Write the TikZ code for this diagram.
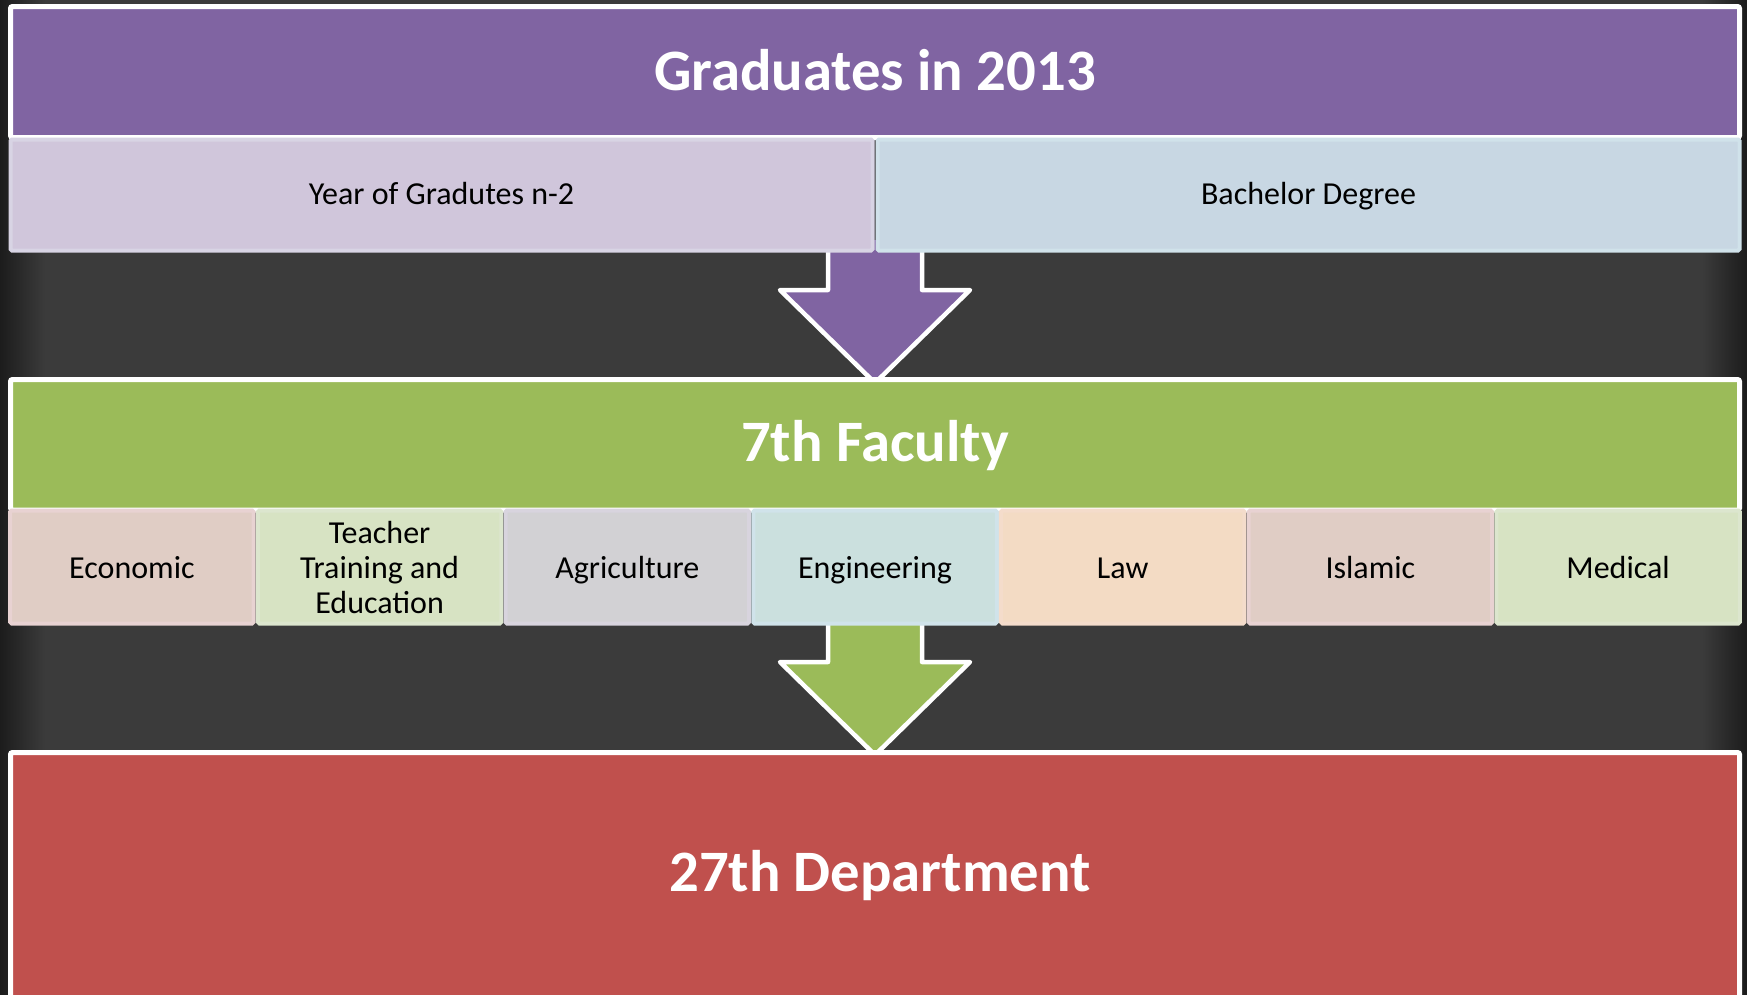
\documentclass[tikz,border=0pt]{standalone}
\usepackage{fontspec}
\setmainfont{Carlito}
\definecolor{bgc}{HTML}{3B3B3B}
\definecolor{bgedge}{HTML}{1C1C1C}
\definecolor{purp}{HTML}{8064A2}
\definecolor{grn}{HTML}{9BBB59}
\definecolor{redc}{HTML}{C0504D}
\definecolor{subAf}{HTML}{D0C6DB}\definecolor{subAd}{HTML}{D8D4E4}
\definecolor{subBf}{HTML}{C8D7E3}\definecolor{subBd}{HTML}{D0E2EA}
\definecolor{facRf}{HTML}{E0CDC5}\definecolor{facRd}{HTML}{E8D2D2}
\definecolor{facGf}{HTML}{D7E3C3}\definecolor{facGd}{HTML}{DCE6CE}
\definecolor{facPf}{HTML}{D2D1D4}\definecolor{facPd}{HTML}{D8D4DE}
\definecolor{facAf}{HTML}{CBE0DE}\definecolor{facAd}{HTML}{D0E3EA}
\definecolor{facOf}{HTML}{F3DBC4}\definecolor{facOd}{HTML}{F4DCCB}
\newcommand\sublbl[1]{\raisebox{-2.8pt}{#1}\strut}
\newcommand\faclbl[1]{\raisebox{-4.6pt}{#1}\strut}
\tikzset{
  hdrbox/.style={draw=white, line width=5pt, inner sep=0pt, outer sep=0pt, rounded corners=2pt,
    minimum width=1729pt},
  hdrtext/.style={text=white, inner sep=0pt, font=\fontsize{58.7}{62}\selectfont\bfseries},
  subbox/.style={line width=4pt, inner sep=0pt, outer sep=0pt, rounded corners=1.5pt,
    font=\fontsize{32}{35}\selectfont, text=black, align=center},
  topsub/.style={subbox, minimum width=862pt, minimum height=111pt},
  facbox/.style={subbox, minimum width=243.5pt, minimum height=113pt},
  blockarrow/.style={draw=white, line width=4.5pt, line join=round},
}
\begin{document}
\begin{tikzpicture}[x=1pt,y=-1pt]
\useasboundingbox (0,0) rectangle (1747,994);
\clip (0,0) rectangle (1747,994);
% background
\fill[bgc] (0,0) rectangle (1747,994);
\shade[left color=bgedge, right color=bgc] (0,0) rectangle (45,994);
\shade[left color=bgc, right color=bgedge] (1702,0) rectangle (1747,994);

% arrows (drawn first, boxes on top)
\draw[blockarrow, fill=purp] (828,240) -- (828,290) -- (780,290) -- (875,383) -- (970,290) -- (922,290) -- (922,240);
\draw[blockarrow, fill=grn] (828,615) -- (828,662) -- (780,662) -- (875,755) -- (970,662) -- (922,662) -- (922,615);

% top block
\node[hdrbox, fill=purp, minimum height=131pt] (grad) at (875,72) {};
\node[hdrtext] (gradtxt) at (875,69.8) {Graduates in 2013};
\node[topsub, fill=subAf, draw=subAd] (year) at (441.5,195) {\sublbl{Year of Gradutes n-2}};
\node[topsub, fill=subBf, draw=subBd] (bach) at (1308.5,195) {\sublbl{Bachelor Degree}};

% middle block
\node[hdrbox, fill=grn, minimum height=130.5pt] (fac) at (875,444.75) {};
\node[hdrtext] (factxt) at (875,446) {7th Faculty};
\node[facbox, fill=facRf, draw=facRd] (f1) at (131.9,567) {\faclbl{Economic}};
\node[facbox, fill=facGf, draw=facGd] (f2) at (379.6,567) {\faclbl{Teacher}\\\faclbl{Training and}\\\faclbl{Education}};
\node[facbox, fill=facPf, draw=facPd] (f3) at (627.3,567) {\faclbl{Agriculture}};
\node[facbox, fill=facAf, draw=facAd] (f4) at (875,567) {\faclbl{Engineering}};
\node[facbox, fill=facOf, draw=facOd] (f5) at (1122.7,567) {\faclbl{Law}};
\node[facbox, fill=facRf, draw=facRd] (f6) at (1370.4,567) {\faclbl{Islamic}};
\node[facbox, fill=facGf, draw=facGd] (f7) at (1618.1,567) {\faclbl{Medical}};

% bottom block
\node[hdrbox, fill=redc, minimum height=280pt] (dept) at (875,892.5) {};
\node[hdrtext] (depttxt) at (880,876) {27th Department};
\end{tikzpicture}
\end{document}
